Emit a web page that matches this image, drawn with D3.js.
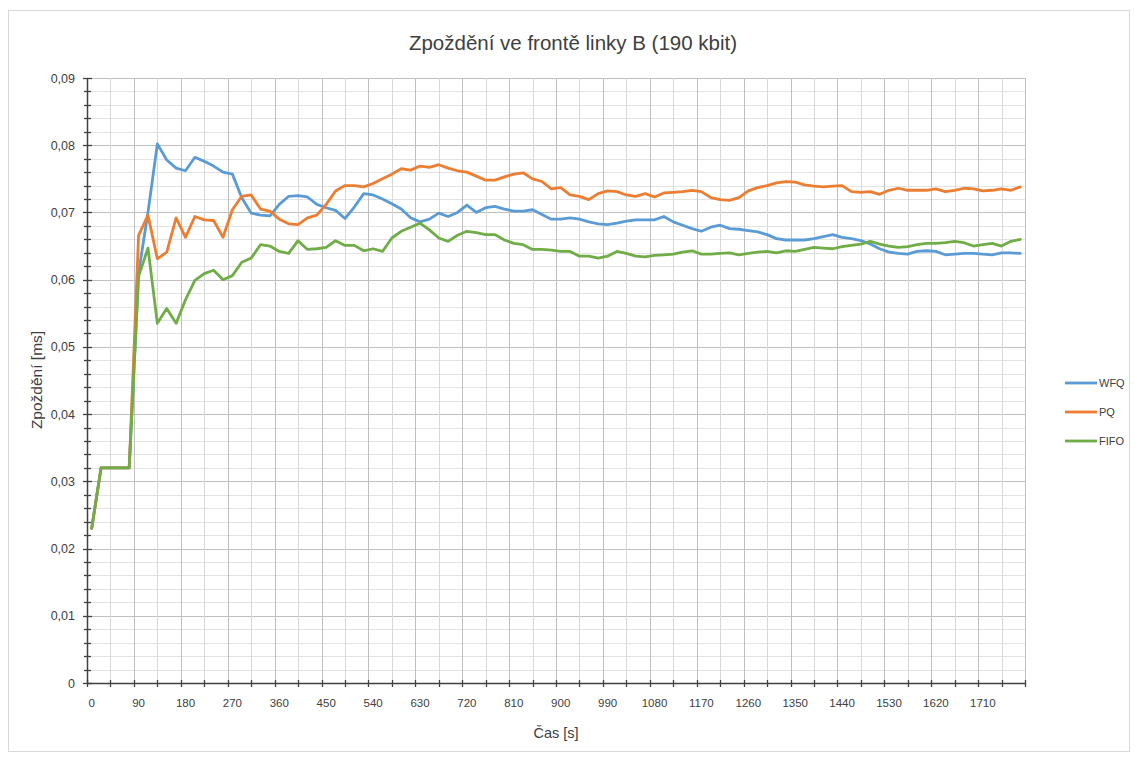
<!DOCTYPE html>
<html>
<head>
<meta charset="utf-8">
<script src="https://cdn.jsdelivr.net/npm/d3@7"></script>
<style>
  body { margin: 0; background: #fff; }
  svg { display: block; font-family: "Liberation Sans", Arial, sans-serif; }
</style>
</head>
<body>
<div id="chart-area"></div>
<script>
// time categories in seconds (one sample every 18 s)
var times = d3.range(0, 1800, 18);

var seriesNames = ["WFQ", "PQ", "FIFO"];
var seriesColors = ["#5b9bd5", "#ed7d31", "#70ad47"];

var wfq = [
  0.023, 0.032, 0.032, 0.032, 0.032, 0.061, 0.070, 0.0802, 0.0778, 0.0766,
  0.0762, 0.0782, 0.0776, 0.0769, 0.0760, 0.0757, 0.0722, 0.0699, 0.0696, 0.0695,
  0.0712, 0.0724, 0.0725, 0.0723, 0.0712, 0.0707, 0.0703, 0.0691, 0.0708, 0.0728,
  0.0726, 0.0720, 0.0713, 0.0705, 0.0692, 0.0686, 0.0690, 0.0699, 0.0694, 0.0700,
  0.0711, 0.0700, 0.0707, 0.0709, 0.0705, 0.0702, 0.0702, 0.0704, 0.0697, 0.0690,
  0.0690, 0.0692, 0.0690, 0.0686, 0.0683, 0.0682, 0.0684, 0.0687, 0.0689, 0.0689,
  0.0689, 0.0694, 0.0686, 0.0681, 0.0676, 0.0672, 0.0678, 0.0681, 0.0676, 0.0675,
  0.0673, 0.0671, 0.0667, 0.0661, 0.0659, 0.0659, 0.0659, 0.0661, 0.0664, 0.0667,
  0.0663, 0.0661, 0.0658, 0.0653, 0.0646, 0.0641, 0.0639, 0.0638, 0.0642, 0.0643,
  0.0642, 0.0637, 0.0638, 0.0639, 0.0639, 0.0638, 0.0637, 0.0640, 0.0640, 0.0639
];

var pq = [
  0.023, 0.032, 0.032, 0.032, 0.032, 0.0666, 0.0696, 0.0631, 0.0641, 0.0692,
  0.0663, 0.0694, 0.0689, 0.0688, 0.0663, 0.0704, 0.0724, 0.0726, 0.0705, 0.0702,
  0.0690, 0.0683, 0.0682, 0.0692, 0.0696, 0.0712, 0.0732, 0.0740, 0.0740, 0.0738,
  0.0743, 0.0750, 0.0757, 0.0765, 0.0763, 0.0769, 0.0767, 0.0771, 0.0766, 0.0762,
  0.0760, 0.0754, 0.0748, 0.0748, 0.0753, 0.0757, 0.0759, 0.0750, 0.0746, 0.0735,
  0.0737, 0.0726, 0.0724, 0.0719, 0.0728, 0.0732, 0.0731, 0.0726, 0.0724, 0.0728,
  0.0723, 0.0729, 0.0730, 0.0731, 0.0733, 0.0731, 0.0722, 0.0719, 0.0718, 0.0722,
  0.0732, 0.0737, 0.0740, 0.0744, 0.0746, 0.0745, 0.0741, 0.0739, 0.0738, 0.0739,
  0.0740, 0.0731, 0.0730, 0.0731, 0.0727, 0.0733, 0.0736, 0.0733, 0.0733, 0.0733,
  0.0735, 0.0731, 0.0733, 0.0736, 0.0735, 0.0732, 0.0733, 0.0735, 0.0733, 0.0738
];

var fifo = [
  0.023, 0.032, 0.032, 0.032, 0.032, 0.0605, 0.0647, 0.0535, 0.0557, 0.0535,
  0.0570, 0.0599, 0.0609, 0.0614, 0.0600, 0.0606, 0.0626, 0.0632, 0.0652, 0.0650,
  0.0642, 0.0639, 0.0658, 0.0645, 0.0646, 0.0648, 0.0658, 0.0651, 0.0651, 0.0643,
  0.0646, 0.0642, 0.0662, 0.0672, 0.0678, 0.0684, 0.0674, 0.0662, 0.0657, 0.0666,
  0.0672, 0.0670, 0.0667, 0.0667, 0.0659, 0.0654, 0.0652, 0.0645, 0.0645, 0.0644,
  0.0642, 0.0642, 0.0635, 0.0635, 0.0632, 0.0635, 0.0642, 0.0639, 0.0635, 0.0634,
  0.0636, 0.0637, 0.0638, 0.0641, 0.0643, 0.0638, 0.0638, 0.0639, 0.0640, 0.0637,
  0.0639, 0.0641, 0.0642, 0.0640, 0.0643, 0.0642, 0.0645, 0.0648, 0.0647, 0.0646,
  0.0649, 0.0651, 0.0653, 0.0657, 0.0653, 0.0650, 0.0648, 0.0649, 0.0652, 0.0654,
  0.0654, 0.0655, 0.0657, 0.0655, 0.0650, 0.0652, 0.0654, 0.0650, 0.0657, 0.0660
];

var yMajorTicks = [0, 0.01, 0.02, 0.03, 0.04, 0.05, 0.06, 0.07, 0.08, 0.09];

var series = [wfq, pq, fifo];

var width = 1137, height = 758;
var plotLeft = 87, plotRight = 1025, plotTop = 78, plotBottom = 683;

var svg = d3.select("#chart-area")
  .append("svg")
  .attr("width", width)
  .attr("height", height);

// chart area border
svg.append("rect")
  .attr("x", 8.5).attr("y", 10.5)
  .attr("width", 1121).attr("height", 741)
  .attr("fill", "#fff")
  .attr("stroke", "#d9d9d9");

var x = d3.scaleBand()
  .domain(times)
  .range([plotLeft, plotRight])
  .paddingInner(0)
  .paddingOuter(0);

var y = d3.scaleLinear()
  .domain([0, 0.09])
  .range([plotBottom, plotTop]);

var bw = x.bandwidth();

var czLocale = d3.formatLocale({ decimal: ",", thousands: " ", grouping: [3], currency: ["", ""] });
var fmt = czLocale.format(".2~f");

// horizontal gridlines (minor every 0.002, major every 0.01)
var yAll = d3.range(0, 46).map(i => i * 0.002);
svg.append("g")
  .selectAll("line")
  .data(yAll)
  .enter()
  .append("line")
  .attr("x1", plotLeft).attr("x2", plotRight)
  .attr("y1", d => Math.round(y(d)) + 0.5)
  .attr("y2", d => Math.round(y(d)) + 0.5)
  .attr("stroke", (d, i) => i % 5 === 0 ? "#bfbfbf" : "#e3e3e3")
  .attr("stroke-width", 1);

// vertical gridlines at every 45 s (major 90 s, minor midway)
var vLines = [];
times.forEach((t, i) => {
  if (i % 5 === 0) {
    vLines.push({ pos: x(t), major: true });
    vLines.push({ pos: x(t) + 2.5 * bw, major: false });
  }
});
vLines.push({ pos: x.range()[1], major: true });

svg.append("g")
  .selectAll("line")
  .data(vLines)
  .enter()
  .append("line")
  .attr("x1", d => Math.round(d.pos) + 0.5)
  .attr("x2", d => Math.round(d.pos) + 0.5)
  .attr("y1", plotTop).attr("y2", plotBottom)
  .attr("stroke", d => d.major ? "#bfbfbf" : "#d9d9d9")
  .attr("stroke-width", 1);

// axis lines
svg.append("line")
  .attr("x1", plotLeft + 0.5).attr("x2", plotLeft + 0.5)
  .attr("y1", plotTop).attr("y2", plotBottom)
  .attr("stroke", "#404040").attr("stroke-width", 1.5);
svg.append("line")
  .attr("x1", plotLeft).attr("x2", plotRight)
  .attr("y1", plotBottom + 0.5).attr("y2", plotBottom + 0.5)
  .attr("stroke", "#404040").attr("stroke-width", 1.5);

// y tick marks (cross)
svg.append("g")
  .selectAll("line")
  .data(yAll)
  .enter()
  .append("line")
  .attr("x1", (d, i) => plotLeft - (i % 5 === 0 ? 4 : 3))
  .attr("x2", (d, i) => plotLeft + (i % 5 === 0 ? 5 : 4))
  .attr("y1", d => Math.round(y(d)) + 0.5)
  .attr("y2", d => Math.round(y(d)) + 0.5)
  .attr("stroke", "#404040")
  .attr("stroke-width", 1.3);

// x tick marks (cross)
svg.append("g")
  .selectAll("line")
  .data(vLines)
  .enter()
  .append("line")
  .attr("x1", d => Math.round(d.pos) + 0.5)
  .attr("x2", d => Math.round(d.pos) + 0.5)
  .attr("y1", plotBottom - 3).attr("y2", plotBottom + 4)
  .attr("stroke", "#404040")
  .attr("stroke-width", 1.3);

// y axis labels
var yAxis = d3.axisLeft(y)
  .tickValues(yMajorTicks)
  .tickFormat(fmt)
  .tickSize(0)
  .tickPadding(12);

svg.append("g")
  .attr("transform", "translate(" + plotLeft + ",0)")
  .call(yAxis)
  .call(g => g.select(".domain").remove())
  .selectAll("text")
  .attr("font-size", 12.5)
  .attr("font-family", "Liberation Sans, Arial, sans-serif")
  .attr("fill", "#404040");

// x axis labels
var xAxis = d3.axisBottom(x)
  .tickValues(times.filter((t, i) => i % 5 === 0))
  .tickSize(0)
  .tickPadding(16);

svg.append("g")
  .attr("transform", "translate(0," + plotBottom + ")")
  .call(xAxis)
  .call(g => g.select(".domain").remove())
  .selectAll("text")
  .attr("font-size", 11.5)
  .attr("font-family", "Liberation Sans, Arial, sans-serif")
  .attr("fill", "#404040");

// lines
var line = d3.line()
  .x((d, i) => x(times[i]) + bw / 2)
  .y(d => y(d));

svg.append("g")
  .selectAll("path")
  .data(series)
  .enter()
  .append("path")
  .attr("d", d => line(d))
  .attr("fill", "none")
  .attr("stroke", (d, i) => seriesColors[i])
  .attr("stroke-width", 2.8)
  .attr("stroke-linejoin", "round")
  .attr("stroke-linecap", "round");

// title
svg.append("text")
  .attr("x", 573).attr("y", 50)
  .attr("text-anchor", "middle")
  .attr("font-size", 20.5)
  .attr("fill", "#404040")
  .text("Zpoždění ve frontě linky B (190 kbit)");

// axis titles
svg.append("text")
  .attr("x", 556).attr("y", 738)
  .attr("text-anchor", "middle")
  .attr("font-size", 14.5)
  .attr("fill", "#404040")
  .text("Čas [s]");

svg.append("text")
  .attr("transform", "translate(42,380) rotate(-90)")
  .attr("text-anchor", "middle")
  .attr("font-size", 15.5)
  .attr("fill", "#404040")
  .text("Zpoždění [ms]");

// legend
var legendY = [383, 412, 441];
var legend = svg.append("g")
  .selectAll("g")
  .data(seriesNames)
  .enter()
  .append("g")
  .attr("transform", (d, i) => "translate(1065," + legendY[i] + ")");

legend.append("line")
  .attr("x1", 0).attr("x2", 32)
  .attr("stroke", (d, i) => seriesColors[i])
  .attr("stroke-width", 2.8);

legend.append("text")
  .attr("x", 34).attr("y", 4)
  .attr("font-size", 11)
  .attr("fill", "#404040")
  .text(d => d);
</script>
</body>
</html>
